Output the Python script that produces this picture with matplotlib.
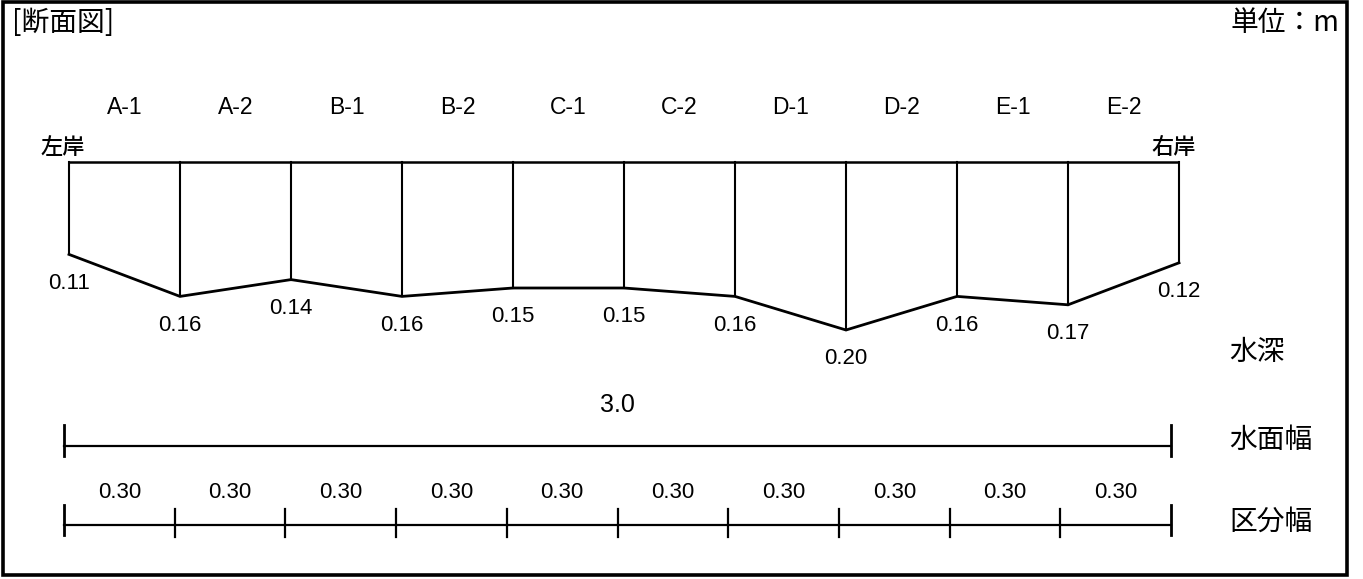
import numpy as np
import matplotlib
matplotlib.use("Agg")
import matplotlib.pyplot as plt
import matplotlib.transforms as mtransforms
from matplotlib.patches import Rectangle

plt.rcParams['font.family'] = ['Liberation Sans', 'Noto Sans CJK JP', 'DejaVu Sans']

# ---- data ----
sections = ['A-1', 'A-2', 'B-1', 'B-2', 'C-1', 'C-2', 'D-1', 'D-2', 'E-1', 'E-2']
seg_widths = [0.30, 0.30, 0.30, 0.30, 0.30, 0.30, 0.30, 0.30, 0.30, 0.30]
depths = [0.11, 0.16, 0.14, 0.16, 0.15, 0.15, 0.16, 0.20, 0.16, 0.17, 0.12]
depth_labels = ['0.11', '0.16', '0.14', '0.16', '0.15', '0.15', '0.16', '0.20', '0.16', '0.17', '0.12']
seg_labels = ['0.30'] * 10
surface_width = 3.0
surface_label = '3.0'
row_labels = ['水深', '水面幅', '区分幅']
title = '[断面図]'
unit = '単位：m'
banks = ['左岸', '右岸']

W, H = 1363, 579
fig = plt.figure(figsize=(W / 100, H / 100), dpi=100)
ax = fig.add_axes([0, 0, 1, 1])
ax.axis('off')
# x: metres, y: depth (m) ; 370 px per metre horizontally, 840 px per metre vertically
X0, Y0, SX, SY = 69, 162, 370.0, 840.0
ax.set_xlim(-X0 / SX, (W - X0) / SX)
ax.set_ylim((H - Y0) / SY, -Y0 / SY)

def fy(py):
    """pixel row -> axes fraction"""
    return 1 - py / H

blend = mtransforms.blended_transform_factory(ax.transData, ax.transAxes)

xs = np.concatenate([[0], np.cumsum(seg_widths)])
d = np.array(depths)

# cross-section
ax.plot([xs[0], xs[-1]], [0, 0], color='black', lw=1.8, solid_capstyle='butt')
for x, dd in zip(xs, d):
    ax.plot([x, x], [0, dd], color='black', lw=1.5)
ax.plot(xs, d, color='black', lw=2.0, solid_joinstyle='miter')

# depth labels
for x, dd, lab in zip(xs, d, depth_labels):
    ax.annotate(lab, (x, dd), xytext=(0, -29), textcoords='offset pixels',
                ha='center', va='center', fontsize=16)

# section names
mids = (xs[:-1] + xs[1:]) / 2
for m, s in zip(mids, sections):
    ax.text(m, fy(107), s, transform=blend, ha='center', va='center', fontsize=16.5)

# banks
ax.text(xs[0] - 6 / SX, fy(147), banks[0], transform=blend, ha='center', va='center',
        fontsize=16, family=['Noto Sans CJK JP'], fontweight='medium')
ax.text(xs[-1] - 5 / SX, fy(147), banks[1], transform=blend, ha='center', va='center',
        fontsize=16, family=['Noto Sans CJK JP'], fontweight='medium')

# scale lines (slightly shifted left as in reference)
off = mtransforms.offset_copy(blend, fig=fig, x=-5, y=0, units='dots')
SC = 369.0 / 370.0
# surface width
sw0, sw1 = 0, surface_width * SC
ax.plot([sw0, sw1], [fy(446), fy(446)], color='black', lw=1.6, transform=off)
for xe in (sw0, sw1):
    ax.plot([xe, xe], [fy(425), fy(456)], color='black', lw=2.0, transform=off)
ax.text((sw0 + sw1) / 2, fy(405), surface_label, transform=off, ha='center',
        va='center', fontsize=18)

# segment widths
sx = np.concatenate([[0], np.cumsum(seg_widths)]) * SC
ax.plot([sx[0], sx[-1]], [fy(525), fy(525)], color='black', lw=1.6, transform=off)
for i, xe in enumerate(sx):
    if i in (0, len(sx) - 1):
        ax.plot([xe, xe], [fy(505), fy(535)], color='black', lw=2.0, transform=off)
    else:
        ax.plot([xe, xe], [fy(509), fy(537)], color='black', lw=1.6, transform=off)
for a, b, lab in zip(sx[:-1], sx[1:], seg_labels):
    ax.text((a + b) / 2, fy(493), lab, transform=off, ha='center', va='center',
            fontsize=16)

# row labels on the right
for lab, py in zip(row_labels, [352, 440, 522]):
    fig.text(1229 / W, fy(py), lab, ha='left', va='center', fontsize=20,
             family=['Noto Sans CJK JP'])

# title and unit
fig.text(12 / W, fy(23), title, ha='left', va='center', fontsize=20,
         family=['Noto Sans CJK JP'])
fig.text(1339 / W, fy(23), unit, ha='right', va='center', fontsize=20,
         family=['Noto Sans CJK JP'])

# frame
fig.patches.append(Rectangle((3 / W, 1 - 575 / H), 1344 / W, 573 / H,
                             transform=fig.transFigure, fill=False,
                             edgecolor='black', lw=2.6))

fig.savefig('out.png', dpi=100, facecolor='white')
